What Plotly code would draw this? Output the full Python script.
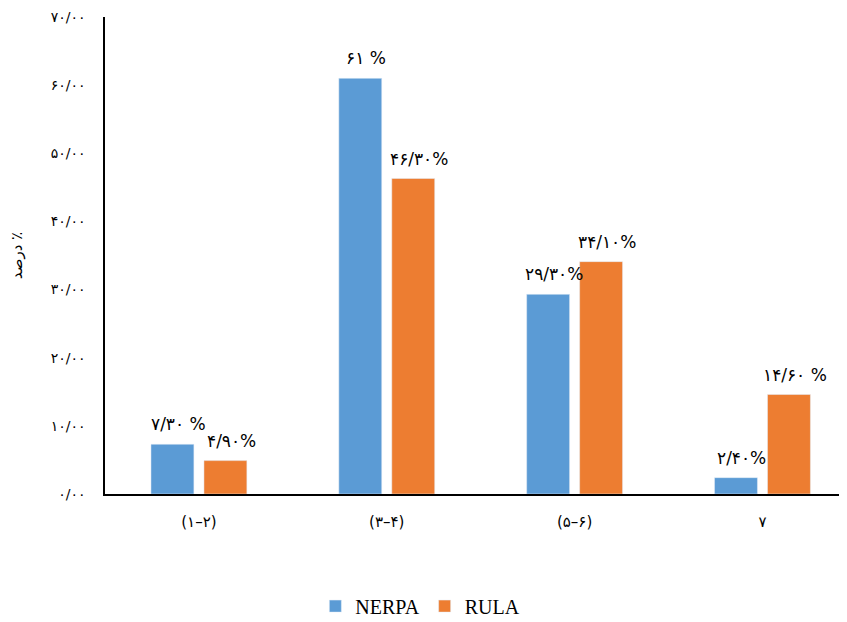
import plotly.graph_objects as go

categories = ["(۱–۲)", "(۳–۴)", "(۵–۶)", "۷"]
nerpa_values = [7.3, 61.0, 29.3, 2.4]
rula_values = [4.9, 46.3, 34.1, 14.6]
nerpa_labels = ["۷/۳۰ %", "۶۱ %", "۲۹/۳۰%", "۲/۴۰%"]
rula_labels = ["۴/۹۰%", "۴۶/۳۰%", "۳۴/۱۰%", "۱۴/۶۰ %"]
y_tick_values = [0, 10, 20, 30, 40, 50, 60, 70]
y_tick_labels = ["۰/۰۰", "۱۰/۰۰", "۲۰/۰۰", "۳۰/۰۰", "۴۰/۰۰", "۵۰/۰۰", "۶۰/۰۰", "۷۰/۰۰"]
y_title = "درصد ٪"

BLUE = "#5B9BD5"
ORANGE = "#ED7D31"
AR_FONT = "DejaVu Sans, sans-serif"

fig = go.Figure()
fig.add_trace(go.Bar(name="NERPA", x=categories, y=nerpa_values, marker_color=BLUE))
fig.add_trace(go.Bar(name="RULA", x=categories, y=rula_values, marker_color=ORANGE))

annotations = []
for cat, val, lab in zip(categories, nerpa_values, nerpa_labels):
    annotations.append(dict(x=cat, y=val, text=lab, showarrow=False, xref="x", yref="y",
                            xshift=-26.5 + 6, yshift=20, yanchor="middle", xanchor="center",
                            font=dict(family=AR_FONT, size=17, color="black")))
for cat, val, lab in zip(categories, rula_values, rula_labels):
    annotations.append(dict(x=cat, y=val, text=lab, showarrow=False, xref="x", yref="y",
                            xshift=26.5 + 6, yshift=20, yanchor="middle", xanchor="center",
                            font=dict(family=AR_FONT, size=17, color="black")))

fig.update_layout(
    width=839, height=614,
    margin=dict(l=97, r=0, t=9, b=128, autoexpand=False),
    paper_bgcolor="white", plot_bgcolor="white",
    barmode="group", bargap=0.436, bargroupgap=0.19,
    font=dict(family=AR_FONT, color="black"),
    legend=dict(orientation="h", x=0.425, xanchor="center", y=-0.235, yanchor="middle",
                font=dict(family="Times New Roman, Liberation Serif, serif", size=20, color="black"),
                traceorder="normal", itemwidth=30, tracegroupgap=0),
    annotations=annotations,
    xaxis=dict(range=[-0.5, 3.45], showline=True, linecolor="black", linewidth=1.5,
               showgrid=False, ticks="", ticklabelstandoff=13, automargin=False,
               tickfont=dict(family=AR_FONT, size=15, color="black"),
               fixedrange=True),
    yaxis=dict(range=[0, 70], showline=True, linecolor="black", linewidth=1.5,
               showgrid=False, zeroline=False, ticks="", automargin=False,
               tickvals=y_tick_values, ticktext=y_tick_labels,
               ticklabelstandoff=15,
               tickfont=dict(family=AR_FONT, size=14, color="black"),
               title=dict(text=y_title, standoff=27,
                          font=dict(family=AR_FONT, size=15, color="black"))),
    showlegend=True,
)

fig.write_html("out.html")
